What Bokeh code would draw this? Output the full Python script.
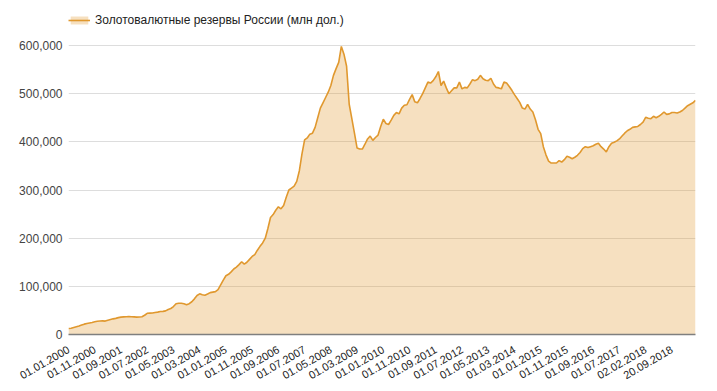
from bokeh.plotting import figure
from bokeh.models import Range1d, FixedTicker, NumeralTickFormatter, Legend, LegendItem, ColumnDataSource
from bokeh.embed import file_html
from bokeh.resources import INLINE
import math

# Reserves, USD bn (converted to USD mln below)
vals_2000_2003 = [12.5, 13.0, 14.5, 16.0, 17.5, 19.5, 21.5, 23.0, 24.0, 25.0, 26.5, 27.5,
                  28.0, 28.3, 27.8, 29.5, 31.0, 32.5, 33.5, 35.0, 36.0, 36.5, 37.0, 37.2,
                  36.8, 36.5, 36.0, 36.2, 37.0, 40.0, 44.0, 44.3, 44.5, 45.7, 46.5, 47.7,
                  48.0, 49.0, 52.0, 54.0, 58.0, 64.0, 65.0, 65.0, 64.0, 62.0, 64.0, 68.0]
vals_2004_2007 = [74.0, 81.0, 84.5, 82.5, 81.6, 84.0, 87.0, 88.0, 89.0, 93.0, 103.0, 113.0,
                  122.0, 125.0, 130.0, 136.0, 140.0, 145.0, 151.0, 146.0, 150.0, 156.0, 162.0, 166.0,
                  175.0, 183.0, 190.0, 200.0, 220.0, 243.0, 249.0, 258.0, 265.0, 261.0, 268.0, 285.0,
                  300.0, 304.0, 308.0, 318.0, 340.0, 375.0, 404.0, 408.0, 416.0, 418.0, 430.0, 450.0]
vals_2008_2011 = [470.0, 481.0, 492.0, 503.0, 517.0, 538.0, 552.0, 565.0, 598.0, 582.0, 557.0, 478.0,
                  448.0, 418.0, 387.0, 385.0, 385.0, 395.0, 406.0, 412.0, 403.0, 409.0, 414.0, 432.0,
                  447.0, 438.0, 436.0, 445.0, 455.0, 461.0, 458.0, 470.0, 476.0, 477.0, 488.0, 498.0,
                  483.0, 481.0, 490.0, 500.0, 512.0, 524.0, 522.0, 527.0, 535.0, 546.0, 517.0, 526.0]
vals_2012_2015 = [512.0, 500.0, 506.0, 512.0, 512.0, 524.0, 510.0, 513.0, 512.0, 520.0, 529.0, 527.0,
                  530.0, 538.0, 531.0, 528.0, 527.0, 532.0, 520.0, 513.0, 512.0, 510.0, 524.0, 522.0,
                  515.0, 507.0, 498.0, 490.0, 482.0, 470.0, 468.0, 478.0, 468.0, 462.0, 446.0, 426.0,
                  417.0, 390.0, 373.0, 360.0, 356.0, 356.0, 356.0, 361.0, 358.0, 363.0, 370.0, 368.0]
vals_2016_2019 = [365.0, 368.0, 372.0, 378.0, 386.0, 390.0, 388.0, 390.0, 392.0, 395.0, 397.0, 390.0,
                  385.0, 379.0, 390.0, 397.0, 399.0, 402.0, 406.0, 412.0, 418.0, 423.0, 426.0, 430.0,
                  431.0, 432.0, 436.0, 441.0, 451.0, 449.0, 448.0, 453.0, 450.0, 453.0, 457.0, 462.0,
                  457.0, 458.0, 461.0, 461.0, 460.0, 462.0, 465.0, 470.0, 475.0, 478.0, 481.0, 486.0]

reserves_bn = vals_2000_2003 + vals_2004_2007 + vals_2008_2011 + vals_2012_2015 + vals_2016_2019
reserves = [v * 1000 for v in reserves_bn]

tick_labels = ["01.01.2000", "01.11.2000", "01.09.2001", "01.07.2002", "01.05.2003",
               "01.03.2004", "01.01.2005", "01.11.2005", "01.09.2006", "01.07.2007",
               "01.05.2008", "01.03.2009", "01.01.2010", "01.11.2010", "01.09.2011",
               "01.07.2012", "01.05.2013", "01.03.2014", "01.01.2015", "01.11.2015",
               "01.09.2016", "01.07.2017", "02.02.2018", "20.09.2018"]
label_step = 10
y_ticks = [0, 100000, 200000, 300000, 400000, 500000, 600000]

series_name = "Золотовалютные резервы России (млн дол.)"
LINE = "#e0982e"
FONT = "Liberation Sans"

idx = list(range(len(reserves)))
src = ColumnDataSource(dict(x=idx, y=reserves, y0=[0] * len(reserves)))

# frame spans 321 px; 600,000 sits 32 px below the frame top (room for the legend)
y_top = 600000 * 321 / 289

p = figure(width=717, height=391, output_backend="svg", toolbar_location=None,
           x_range=Range1d(0, len(reserves) - 1), y_range=Range1d(0, y_top),
           min_border_left=68, min_border_right=22, min_border_top=13, min_border_bottom=57)
p.outline_line_color = None
p.background_fill_color = "white"

area = p.varea(x="x", y1="y0", y2="y", source=src, fill_color=LINE, fill_alpha=0.3)
line = p.line(x="x", y="y", source=src, line_color=LINE, line_width=1.6)

ticks = [i * label_step for i in range(len(tick_labels))]
p.xaxis.ticker = FixedTicker(ticks=ticks)
p.xaxis.major_label_overrides = {t: lab for t, lab in zip(ticks, tick_labels)}
p.xaxis.major_label_orientation = math.pi / 6
p.xaxis.major_tick_line_color = None
p.xaxis.major_tick_out = 0
p.xaxis.major_tick_in = 0
p.xaxis.minor_tick_line_color = None
p.xaxis.axis_line_color = "#7f7f7f"
p.xaxis.axis_line_width = 1.5
p.xaxis.major_label_text_font = FONT
p.xaxis.major_label_text_font_size = "11px"
p.xaxis.major_label_text_color = "#222222"
p.xaxis.major_label_standoff = 14

p.yaxis.ticker = FixedTicker(ticks=y_ticks)
p.yaxis.formatter = NumeralTickFormatter(format="0,0")
p.yaxis.axis_line_color = None
p.yaxis.major_tick_line_color = None
p.yaxis.major_tick_out = 0
p.yaxis.major_tick_in = 0
p.yaxis.minor_tick_line_color = None
p.yaxis.major_label_text_font = FONT
p.yaxis.major_label_text_font_size = "12px"
p.yaxis.major_label_text_color = "#444444"
p.yaxis.major_label_standoff = 6

p.xgrid.grid_line_color = None
p.ygrid.ticker = FixedTicker(ticks=y_ticks[1:])
p.ygrid.grid_line_color = "#dddddd"
p.ygrid.grid_line_width = 1

legend = Legend(items=[LegendItem(label=series_name, renderers=[area, line])],
                location="top_left", orientation="horizontal",
                border_line_color=None, background_fill_alpha=0,
                label_text_font=FONT, label_text_font_size="12px", label_text_color="#222222",
                glyph_width=22, glyph_height=10, padding=0, margin=0, label_standoff=5)
p.add_layout(legend)

open("out.html", "w").write(file_html(p, INLINE))
